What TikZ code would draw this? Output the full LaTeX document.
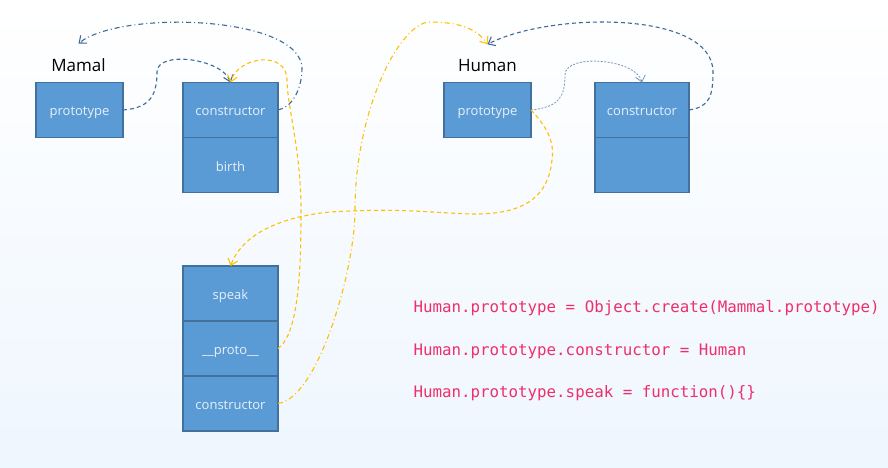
\documentclass[tikz,border=0pt]{standalone}
\usepackage{fontspec}
\setmainfont{Open Sans}
\setmonofont{DejaVu Sans Mono}
\usetikzlibrary{arrows.meta,positioning,calc}

\definecolor{cellfill}{HTML}{5B9BD5}
\definecolor{celldraw}{HTML}{41719C}
\definecolor{celltext}{HTML}{E6F0FA}
\definecolor{linkblue}{HTML}{3D6B98}
\definecolor{linkgold}{HTML}{FFC000}
\definecolor{codepink}{HTML}{EE2F6B}
\definecolor{bgblue}{HTML}{EEF6FE}

\begin{document}
\begin{tikzpicture}[x=1pt, y=-1pt, >={Straight Barb[length=6pt,width=10pt]}, line width=1.1pt,
    cell/.style={draw=celldraw, fill=cellfill, text=celltext, font=\fontsize{13}{15}\selectfont,
                 minimum height=55pt, inner sep=0pt, outer sep=0pt, text height=13pt, text depth=1pt},
    title/.style={font=\fontsize{17}{20}\selectfont, anchor=base, inner sep=0pt},
    code/.style={font=\ttfamily\fontsize{15.8}{18}\selectfont, text=codepink, anchor=base west, inner sep=0pt},
    bluelink/.style={->, linkblue, dash pattern=on 4pt off 3pt},
    bluedot/.style={->, linkblue!70, line width=0.8pt, dash pattern=on 2pt off 1.5pt},
    bluedashdot/.style={->, linkblue, dash pattern=on 5pt off 3pt on 1pt off 3pt},
    goldlink/.style={->, linkgold, dash pattern=on 4pt off 3pt},
    golddashdot/.style={->, linkgold, dash pattern=on 5pt off 3pt on 1pt off 3pt}]

    % Background
    \shade [top color=white, bottom color=bgblue] (0,0) rectangle (888,468);
    \useasboundingbox (0,0) rectangle (888,468);

    % Nodes {Mamal, Human, instance}
    \node [title]                         (mamal)  at (78.5,72)     {Mamal};
    \node [cell, minimum width=87pt]      (mp)     at (79.5,110)    {prototype};
    \node [cell, minimum width=95pt]      (mc)     at (230.5,110)   {constructor};
    \node [cell, minimum width=95pt]      (mb)     [below=0pt of mc] {birth};

    \node [title]                         (human)  at (487.5,72)    {Human};
    \node [cell, minimum width=87pt]      (hp)     at (487.5,110)   {prototype};
    \node [cell, minimum width=94pt]      (hc)     at (642,110)     {constructor};
    \node [cell, minimum width=94pt]      (he)     [below=0pt of hc] {};

    \node [cell, minimum width=95pt]      (ps)     at (230.5,293.5) {speak};
    \node [cell, minimum width=95pt]      (pp)     [below=0pt of ps] {\_\_proto\_\_};
    \node [cell, minimum width=95pt]      (pc)     [below=0pt of pp] {constructor};

    % Code
    \node [code] (line1) at (413,312) {Human.prototype = Object.create(Mammal.prototype)};
    \node [code] (line2) at (413,355) {Human.prototype.constructor = Human};
    \node [code] (line3) at (413,397) {Human.prototype.speak = function()\{\}};

    % Paths
    \draw [bluelink]    (mp.east) .. controls +(28,-2) and +(0,22) .. (157,72)
                        .. controls +(0,-22) and +(-8,-24) .. (mc.north);
    \draw [bluedashdot] (mc.east) .. controls +(15,-3) and +(0,20) .. (302,68)
                        .. controls (300,15) and (120,10) .. ([yshift=15pt]mamal.north);
    \draw [goldlink]    (pp.east) .. controls +(22,-15) and +(0,50) .. (301,210)
                        .. controls +(0,-60) and +(0,25) .. (287,80)
                        .. controls (287,50) and (238,56) .. (mc.north);
    \draw [golddashdot] (pc.east) .. controls +(40,-5) and +(0,60) .. (355,210)
                        .. controls +(0,-100) and +(-30,0) .. (430,22)
                        .. controls +(30,0) and +(-10,-15) .. ([yshift=15pt]human.north);
    \draw [bluedot]     (hp.east) .. controls +(28,-3) and +(0,22) .. (565,75)
                        .. controls +(0,-22) and +(-6,-24) .. (hc.north);
    \draw [bluelink]    (hc.east) .. controls +(20,-3) and +(0,25) .. (713,72)
                        .. controls (713,10) and (550,12) .. ([yshift=15pt]human.north);
    \draw [goldlink]    (hp.east) .. controls (545,125) and (555,140) .. (552,160)
                        .. controls (548,200) and (520,215) .. (470,214)
                        .. controls (420,212) and (400,208) .. (330,212)
                        .. controls (270,218) and (240,240) .. (ps.north);

\end{tikzpicture}
\end{document}
